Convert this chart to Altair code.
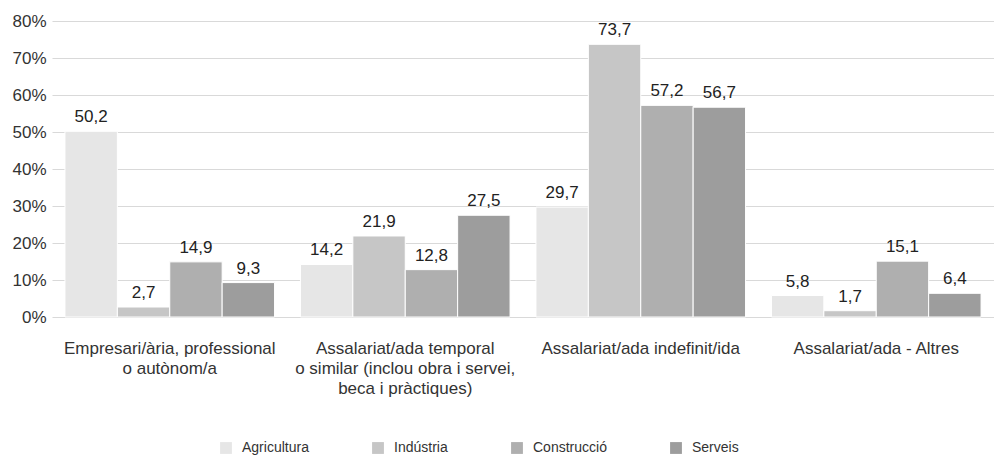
import altair as alt
import pandas as pd

categories = [
    "Empresari/ària, professional|o autònom/a",
    "Assalariat/ada temporal|o similar (inclou obra i servei,|beca i pràctiques)",
    "Assalariat/ada indefinit/ida",
    "Assalariat/ada - Altres",
]
series = ["Agricultura", "Indústria", "Construcció", "Serveis"]
colors = ["#e6e6e6", "#c6c6c6", "#afafaf", "#9d9d9d"]
agricultura = [50.2, 14.2, 29.7, 5.8]
industria = [2.7, 21.9, 73.7, 1.7]
construccio = [14.9, 12.8, 57.2, 15.1]
serveis = [9.3, 27.5, 56.7, 6.4]

values = [agricultura, industria, construccio, serveis]
rows = []
for s, vals in zip(series, values):
    for c, v in zip(categories, vals):
        rows.append({"cat": c, "serie": s, "value": v})
df = pd.DataFrame(rows)

FONT = "Liberation Sans"

base = alt.Chart(df).encode(
    x=alt.X(
        "cat:N",
        sort=categories,
        title=None,
        scale=alt.Scale(paddingInner=0.11, paddingOuter=0.055),
        axis=alt.Axis(
            labelAngle=0,
            labelExpr="split(datum.label, '|')",
            labelFontSize=17,
            labelColor="#333333",
            labelFont=FONT,
            labelPadding=23,
            labelLineHeight=20,
            labelLimit=400,
            ticks=False,
            domain=False,
            grid=False,
        ),
    ),
    xOffset=alt.XOffset("serie:N", sort=series, scale=alt.Scale(paddingInner=0, paddingOuter=0)),
    y=alt.Y(
        "value:Q",
        title=None,
        scale=alt.Scale(domain=[0, 80]),
        axis=alt.Axis(
            values=[0, 10, 20, 30, 40, 50, 60, 70, 80],
            labelExpr="datum.value + '%'",
            labelFontSize=17,
            labelColor="#333333",
            labelFont=FONT,
            labelPadding=6,
            ticks=False,
            domain=False,
            gridColor="#d9d9d9",
            gridWidth=1,
        ),
    ),
)

bars = base.mark_bar(stroke="white", strokeWidth=1).encode(
    color=alt.Color(
        "serie:N",
        sort=series,
        scale=alt.Scale(domain=series, range=colors),
        legend=alt.Legend(
            title=None,
            orient="none",
            legendX=167,
            legendY=420,
            direction="horizontal",
            symbolType="square",
            symbolSize=140,
            symbolStrokeWidth=0,
            labelFontSize=14,
            labelFont=FONT,
            labelColor="#333333",
            columnPadding=62,
            labelOffset=9,
        ),
    )
)

text = base.mark_text(
    baseline="alphabetic", dy=-9, fontSize=17, font=FONT, color="#222222"
).transform_calculate(
    lbl="replace(format(datum.value, '.1f'), '.', ',')"
).encode(text="lbl:N")

chart = (
    alt.layer(bars, text)
    .properties(width=942, height=296, padding={"left": 3, "top": 4, "right": 0, "bottom": 0})
    .configure_view(stroke=None)
)

chart.save("out.html", embed_options={"renderer": "svg", "actions": False})
